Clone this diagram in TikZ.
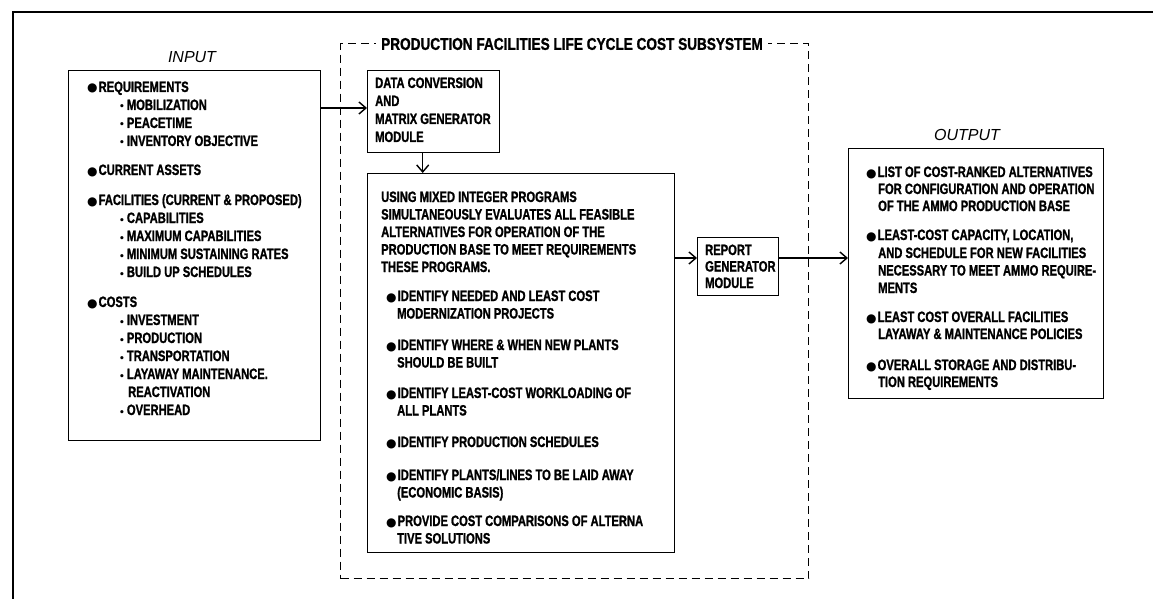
\documentclass[tikz,border=0pt]{standalone}
\usepackage{fontspec}
\setmainfont{Liberation Sans}
\newfontfamily\cond[FakeStretch=0.745,FakeBold=1.2]{Liberation Sans}
\newfontfamily\condt[FakeStretch=0.8,FakeBold=1.2]{Liberation Sans}
\newfontfamily\symf{DejaVu Sans}
\usetikzlibrary{arrows.meta}
\newcommand\bb{{\symf\fontsize{12}{12}\selectfont ●}\hspace{1pt}}
\newcommand\sbul{{\symf\fontsize{9}{9}\selectfont •}\hspace{2pt}}
\newcommand\myline[4]{\node[txt] (#1) at (#2,#3) {#4};}
\tikzset{
  txt/.style={font=\cond\bfseries\fontsize{15}{17}\selectfont, inner sep=0pt, anchor=base west},
  box/.style={draw, line width=1.4pt, inner sep=0pt, anchor=north west},
  arr/.style={-{Straight Barb[length=7pt,width=12pt,line width=1.4pt]}, line width=1.4pt},
  lab/.style={font=\itshape\fontsize{16}{16}\selectfont, inner sep=0pt}
}
\begin{document}
\begin{tikzpicture}[x=1pt,y=-1pt]
\useasboundingbox (0,0) rectangle (1153,599);
% frame
\draw[line width=2pt] (13,599) -- (13,12) -- (1153,12);
% boxes
\node[box, minimum width=252pt, minimum height=370pt] (inbox) at (68,70) {};
\node[box, dashed, dash pattern=on 8pt off 5pt, minimum width=468pt, minimum height=535pt] (sub) at (340,43) {};
\node[font=\condt\bfseries\fontsize{17}{17}\selectfont, fill=white, inner xsep=5pt, inner ysep=2pt] (title) at (572,44) {PRODUCTION FACILITIES LIFE CYCLE COST SUBSYSTEM};
\node[box, minimum width=132pt, minimum height=82pt] (dc) at (367,70) {};
\node[box, minimum width=307pt, minimum height=379pt] (big) at (367,173) {};
\node[box, minimum width=81pt, minimum height=58pt] (rep) at (697,237) {};
\node[box, minimum width=255pt, minimum height=250pt] (outbox) at (848,148) {};
% labels
\node[lab] (inlab) at (192,57) {INPUT};
\node[lab] (outlab) at (967,135) {OUTPUT};
% input text
\myline{i1}{87}{92}{\bb REQUIREMENTS}
\myline{i2}{119}{110}{\sbul MOBILIZATION}
\myline{i3}{119}{128}{\sbul PEACETIME}
\myline{i4}{119}{146}{\sbul INVENTORY OBJECTIVE}
\myline{i5}{87}{175}{\bb CURRENT ASSETS}
\myline{i6}{87}{205}{\bb FACILITIES (CURRENT \& PROPOSED)}
\myline{i7}{119}{223}{\sbul CAPABILITIES}
\myline{i8}{119}{241}{\sbul MAXIMUM CAPABILITIES}
\myline{i9}{119}{259}{\sbul MINIMUM SUSTAINING RATES}
\myline{i10}{119}{277}{\sbul BUILD UP SCHEDULES}
\myline{i11}{87}{307}{\bb COSTS}
\myline{i12}{119}{325}{\sbul INVESTMENT}
\myline{i13}{119}{343}{\sbul PRODUCTION}
\myline{i14}{119}{361}{\sbul TRANSPORTATION}
\myline{i15}{119}{379}{\sbul LAYAWAY MAINTENANCE.}
\myline{i16}{128}{397}{REACTIVATION}
\myline{i17}{119}{415}{\sbul OVERHEAD}
% data conversion
\myline{d1}{375}{88}{DATA CONVERSION}
\myline{d2}{375}{106}{AND}
\myline{d3}{375}{124}{MATRIX GENERATOR}
\myline{d4}{375}{142}{MODULE}
% big box
\myline{b1}{381}{202}{USING MIXED INTEGER PROGRAMS}
\myline{b2}{381}{219.5}{SIMULTANEOUSLY EVALUATES ALL FEASIBLE}
\myline{b3}{381}{237}{ALTERNATIVES FOR OPERATION OF THE}
\myline{b4}{381}{254.5}{PRODUCTION BASE TO MEET REQUIREMENTS}
\myline{b5}{381}{272}{THESE PROGRAMS.}
\myline{b6}{386}{301}{\bb IDENTIFY NEEDED AND LEAST COST}
\myline{b7}{397}{318.5}{MODERNIZATION PROJECTS}
\myline{b8}{386}{350}{\bb IDENTIFY WHERE \& WHEN NEW PLANTS}
\myline{b9}{397}{367.5}{SHOULD BE BUILT}
\myline{b10}{386}{398}{\bb IDENTIFY LEAST-COST WORKLOADING OF}
\myline{b11}{397}{415.5}{ALL PLANTS}
\myline{b12}{386}{447}{\bb IDENTIFY PRODUCTION SCHEDULES}
\myline{b13}{386}{480}{\bb IDENTIFY PLANTS/LINES TO BE LAID AWAY}
\myline{b14}{397}{497.5}{(ECONOMIC BASIS)}
\myline{b15}{386}{526}{\bb PROVIDE COST COMPARISONS OF ALTERNA}
\myline{b16}{397}{543.5}{TIVE SOLUTIONS}
% report
\myline{r1}{705}{255}{REPORT}
\myline{r2}{705}{271.5}{GENERATOR}
\myline{r3}{705}{288}{MODULE}
% output
\myline{o1}{866}{177}{\bb LIST OF COST-RANKED ALTERNATIVES}
\myline{o2}{878}{194}{FOR CONFIGURATION AND OPERATION}
\myline{o3}{878}{211}{OF THE AMMO PRODUCTION BASE}
\myline{o4}{866}{240}{\bb LEAST-COST CAPACITY, LOCATION,}
\myline{o5}{878}{258}{AND SCHEDULE FOR NEW FACILITIES}
\myline{o6}{878}{275.5}{NECESSARY TO MEET AMMO REQUIRE-}
\myline{o7}{878}{293}{MENTS}
\myline{o8}{866}{322}{\bb LEAST COST OVERALL FACILITIES}
\myline{o9}{878}{339}{LAYAWAY \& MAINTENANCE POLICIES}
\myline{o10}{866}{370}{\bb OVERALL STORAGE AND DISTRIBU-}
\myline{o11}{878}{387}{TION REQUIREMENTS}
% arrows
\draw[arr] (inbox.east |- 0,108) -- (dc.west |- 0,108);
\draw[arr] ([xshift=-11pt]dc.south) -- ([xshift=-11pt]dc.south |- big.north);
\draw[arr] (big.east |- 0,258) -- (rep.west |- 0,258);
\draw[arr] (rep.east |- 0,258) -- (outbox.west |- 0,258);
\end{tikzpicture}
\end{document}
